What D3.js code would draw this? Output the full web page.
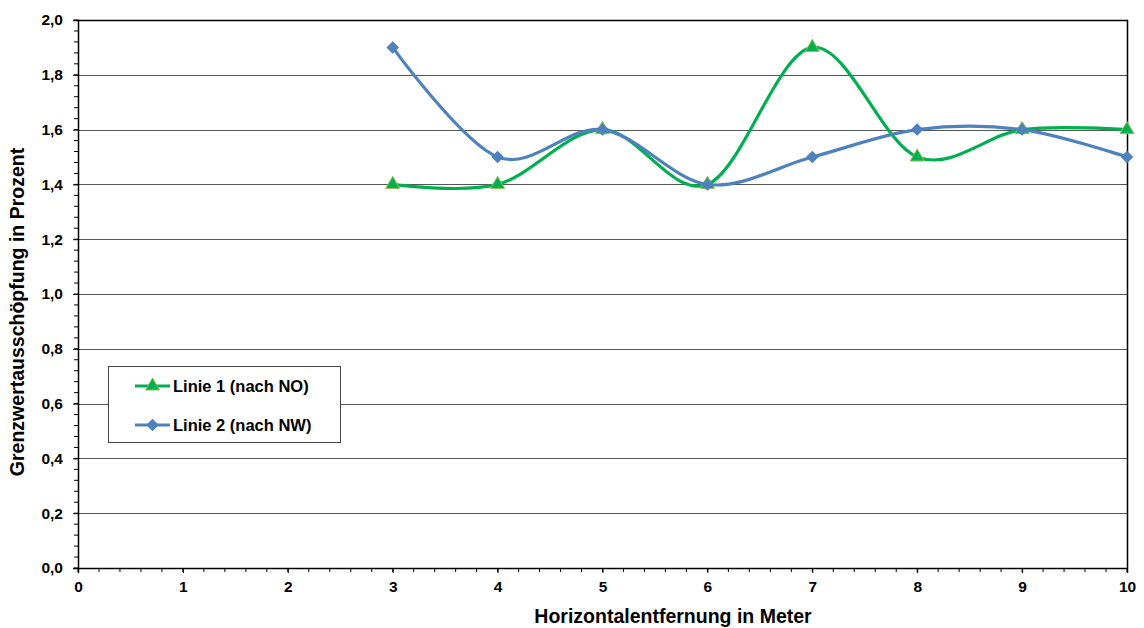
<!DOCTYPE html>
<html>
<head>
<meta charset="utf-8">
<script src="https://cdn.jsdelivr.net/npm/d3@7"></script>
<style>
  html, body { margin: 0; padding: 0; background: #fff; }
  svg { display: block; font-family: "Liberation Sans", Arial, sans-serif; }
</style>
</head>
<body>
<svg id="chart" width="1144" height="628"></svg>
<script>
// Horizontal distance (m)
const distances = [3, 4, 5, 6, 7, 8, 9, 10];
// Limit utilisation (%) per measuring line
const linie1 = [1.4, 1.4, 1.6, 1.4, 1.9, 1.5, 1.6, 1.6];
const linie2 = [1.9, 1.5, 1.6, 1.4, 1.5, 1.6, 1.6, 1.5];
const seriesNames = ["Linie 1 (nach NO)", "Linie 2 (nach NW)"];
const xTicks = [0, 1, 2, 3, 4, 5, 6, 7, 8, 9, 10];
const yTicks = [0, 0.2, 0.4, 0.6, 0.8, 1.0, 1.2, 1.4, 1.6, 1.8, 2.0];

(function () {
const svg = d3.select("#chart");
const pL = 78, pR = 1127, pT = 20, pB = 568;

const x = d3.scaleLinear().domain([0, 10]).range([pL, pR]);
const y = d3.scaleLinear().domain([0, 2]).range([pB, pT]);
const fmt = v => d3.format(".1f")(v).replace(".", ",");

// horizontal gridlines
svg.append("g").selectAll("line").data(yTicks.filter(v => v > 0 && v < 2)).join("line")
  .attr("x1", pL).attr("x2", pR)
  .attr("y1", d => Math.round(y(d)) + 0.5).attr("y2", d => Math.round(y(d)) + 0.5)
  .attr("stroke", "#555").attr("stroke-width", 1);

// plot frame: top and right edges
svg.append("path")
  .attr("d", `M${pL},${pT + 0.5}H${pR + 0.5}V${pB}`)
  .attr("fill", "none").attr("stroke", "#000").attr("stroke-width", 1.5);

// y axis
const yAxis = d3.axisLeft(y).tickValues(yTicks).tickFormat(fmt).tickSize(5).tickPadding(10);
const gy = svg.append("g").attr("transform", `translate(${pL},0)`).call(yAxis);
const yMinor = d3.range(0, 2.0001, 0.04);
svg.append("g").selectAll("line").data(yMinor).join("line")
  .attr("x1", pL - 4).attr("x2", pL)
  .attr("y1", d => y(d)).attr("y2", d => y(d))
  .attr("stroke", "#000").attr("stroke-width", 1);

// x axis
const xAxis = d3.axisBottom(x).tickValues(xTicks).tickFormat(d3.format("d")).tickSize(5).tickPadding(8);
const gx = svg.append("g").attr("transform", `translate(0,${pB})`).call(xAxis);
const xMinor = d3.range(0, 10.0001, 0.2);
svg.append("g").selectAll("line").data(xMinor).join("line")
  .attr("x1", d => x(d)).attr("x2", d => x(d))
  .attr("y1", pB).attr("y2", pB + 4)
  .attr("stroke", "#000").attr("stroke-width", 1);

[gx, gy].forEach(g => {
  g.select(".domain").attr("stroke", "#000").attr("stroke-width", 1.5);
  g.selectAll(".tick line").attr("stroke", "#000");
  g.selectAll("text").attr("font-size", 15.5).attr("font-weight", "bold")
    .attr("fill", "#000").attr("font-family", "Liberation Sans, Arial, sans-serif");
});

// axis titles
svg.append("text").attr("x", 673).attr("y", 623).attr("text-anchor", "middle")
  .attr("font-size", 19.5).attr("font-weight", "bold").text("Horizontalentfernung in Meter");
svg.append("text").attr("transform", "translate(24,312) rotate(-90)").attr("text-anchor", "middle")
  .attr("font-size", 19.5).attr("font-weight", "bold").text("Grenzwertausschöpfung in Prozent");

// series
const line = d3.line().x(d => x(d[0])).y(d => y(d[1])).curve(d3.curveCatmullRom.alpha(0));
const green = "#00b050", blue = "#4f81bd";
const d1 = distances.map((d, i) => [d, linie1[i]]);
const d2 = distances.map((d, i) => [d, linie2[i]]);

const tri = { path: d3.symbol().type(d3.symbolTriangle).size(85)(), rot: 0 };
// square turned 45° gives an evenly proportioned diamond
const dia = { path: d3.symbol().type(d3.symbolSquare).size(62)(), rot: 45 };

function drawSeries(data, color, sym, stroke) {
  svg.append("path").datum(data).attr("d", line)
    .attr("fill", "none").attr("stroke", color).attr("stroke-width", 3.2)
    .attr("stroke-linejoin", "round");
  svg.append("g").selectAll("path").data(data).join("path")
    .attr("d", sym.path)
    .attr("transform", d => `translate(${x(d[0])},${y(d[1])}) rotate(${sym.rot})`)
    .attr("fill", color).attr("stroke", stroke).attr("stroke-width", 1);
}
drawSeries(d1, green, tri, "#9bbb59");
drawSeries(d2, blue, dia, blue);

// legend
const lg = svg.append("g");
lg.append("rect").attr("x", 108.5).attr("y", 366.5).attr("width", 232).attr("height", 76)
  .attr("fill", "#fff").attr("stroke", "#444").attr("stroke-width", 1);
const entries = [
  { name: seriesNames[0], color: green, sym: tri, stroke: "#9bbb59", yy: 386 },
  { name: seriesNames[1], color: blue, sym: dia, stroke: blue, yy: 425 }
];
entries.forEach(e => {
  lg.append("line").attr("x1", 135).attr("x2", 170).attr("y1", e.yy).attr("y2", e.yy)
    .attr("stroke", e.color).attr("stroke-width", 3.2);
  lg.append("path").attr("d", e.sym.path)
    .attr("transform", `translate(152.5,${e.yy}) rotate(${e.sym.rot})`)
    .attr("fill", e.color).attr("stroke", e.stroke).attr("stroke-width", 1);
  lg.append("text").attr("x", 173).attr("y", e.yy + 6).attr("font-size", 16.5)
    .attr("font-weight", "bold").text(e.name);
});
})();
</script>
</body>
</html>
